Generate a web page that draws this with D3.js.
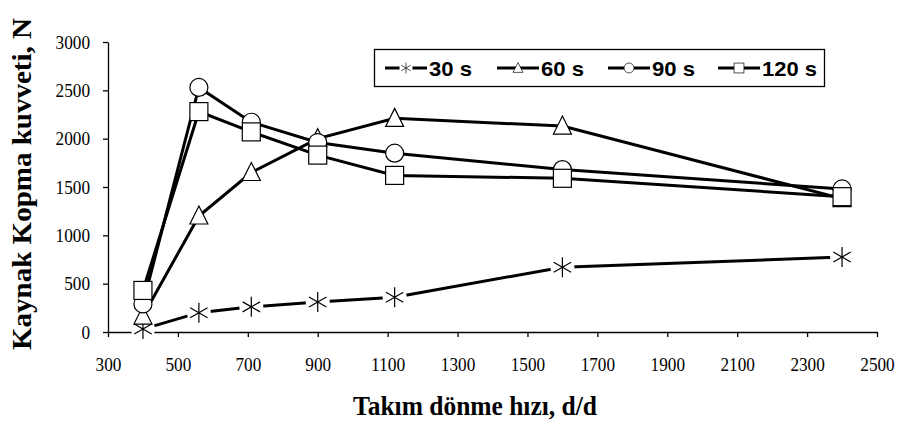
<!DOCTYPE html>
<html>
<head>
<meta charset="utf-8">
<script src="https://cdn.jsdelivr.net/npm/d3@7"></script>
<style>
  body { margin: 0; background: #fff; }
  svg { display: block; }
</style>
</head>
<body>
<div id="container"></div>
<script>
/**
 * DATA
 * */
const speeds = [400, 560, 710, 900, 1120, 1600, 2400];
const force30 = [30, 200, 260, 310, 360, 670, 775];
const force60 = [165, 1200, 1650, 2000, 2210, 2130, 1380];
const force90 = [290, 2530, 2170, 1960, 1850, 1680, 1480];
const force120 = [430, 2280, 2070, 1830, 1620, 1590, 1400];
const seriesNames = ["30 s", "60 s", "90 s", "120 s"];
const markerKinds = ["star", "triangle", "circle", "square"];
const xTicks = [300, 500, 700, 900, 1100, 1300, 1500, 1700, 1900, 2100, 2300, 2500];
const yTicks = [0, 500, 1000, 1500, 2000, 2500, 3000];

/**
 * CONSTANTS AND GLOBALS
 * */
const width = 898,
  height = 423,
  margin = { top: 42, bottom: 91, left: 108, right: 21 };
const serif = "'Liberation Serif', 'Times New Roman', serif";

const series = [force30, force60, force90, force120].map((vals, i) => ({
  name: seriesNames[i],
  kind: markerKinds[i],
  points: speeds.map((s, j) => ({ x: s, y: vals[j] }))
}));

const svg = d3.select("#container").append("svg")
  .attr("width", width)
  .attr("height", height);

const xScale = d3.scaleLinear()
  .domain([300, 2500])
  .range([margin.left, width - margin.right]);

const yScale = d3.scaleLinear()
  .domain([0, 3000])
  .range([height - margin.bottom, margin.top]);

// AXES
const xAxis = svg.append("g")
  .attr("transform", `translate(0,${height - margin.bottom})`)
  .call(d3.axisBottom(xScale).tickValues(xTicks).tickFormat(d3.format("d"))
    .tickSize(5).tickPadding(21).tickSizeOuter(0));

const yAxis = svg.append("g")
  .attr("transform", `translate(${margin.left},0)`)
  .call(d3.axisLeft(yScale).tickValues(yTicks).tickFormat(d3.format("d"))
    .tickSize(5).tickPadding(13).tickSizeOuter(0));

[xAxis, yAxis].forEach(ax => {
  ax.select(".domain").attr("stroke", "#000").attr("stroke-width", 1.3);
  ax.selectAll(".tick line").attr("stroke", "#000").attr("stroke-width", 1.3);
  ax.selectAll(".tick text")
    .attr("fill", "#000")
    .attr("textLength", d => String(d).length * 8.6)
    .attr("lengthAdjust", "spacingAndGlyphs")
    .style("font-family", serif)
    .style("font-size", "19px");
});

// AXIS TITLES
svg.append("text")
  .attr("transform", `translate(31,184) rotate(-90)`)
  .attr("text-anchor", "middle")
  .attr("textLength", 332)
  .attr("lengthAdjust", "spacingAndGlyphs")
  .style("font-family", serif)
  .style("font-weight", "bold")
  .style("font-size", "28px")
  .text("Kaynak Kopma kuvveti, N");

svg.append("text")
  .attr("x", 475)
  .attr("y", 415)
  .attr("text-anchor", "middle")
  .attr("textLength", 244)
  .attr("lengthAdjust", "spacingAndGlyphs")
  .style("font-family", serif)
  .style("font-weight", "bold")
  .style("font-size", "28px")
  .text("Takım dönme hızı, d/d");

// MARKERS
function drawMarker(g, kind, x, y) {
  if (kind === "star") {
    g.append("circle").attr("cx", x).attr("cy", y).attr("r", 12).attr("fill", "#fff");
    const r = 10;
    g.append("path")
      .attr("d", `M${x},${y - r}L${x},${y + r}M${x - r * 0.87},${y - r * 0.5}L${x + r * 0.87},${y + r * 0.5}M${x - r * 0.87},${y + r * 0.5}L${x + r * 0.87},${y - r * 0.5}`)
      .attr("stroke", "#000").attr("stroke-width", 1.2).attr("fill", "none");
  } else if (kind === "triangle") {
    g.append("path")
      .attr("d", `M${x},${y - 10}L${x + 9},${y + 8}L${x - 9},${y + 8}Z`)
      .attr("fill", "#fff").attr("stroke", "#000").attr("stroke-width", 1.2);
  } else if (kind === "circle") {
    g.append("circle").attr("cx", x).attr("cy", y).attr("r", 9)
      .attr("fill", "#fff").attr("stroke", "#000").attr("stroke-width", 1.2);
  } else {
    g.append("rect").attr("x", x - 9).attr("y", y - 9).attr("width", 18).attr("height", 18)
      .attr("fill", "#fff").attr("stroke", "#000").attr("stroke-width", 1.2);
  }
}

const line = d3.line().x(d => xScale(d.x)).y(d => yScale(d.y));

series.forEach(s => {
  const g = svg.append("g");
  g.append("path")
    .datum(s.points)
    .attr("d", line)
    .attr("fill", "none")
    .attr("stroke", "#000")
    .attr("stroke-width", 3);
  s.points.forEach(p => drawMarker(g, s.kind, xScale(p.x), yScale(p.y)));
});

// LEGEND
const legend = svg.append("g");
legend.append("rect")
  .attr("x", 374.5).attr("y", 49.5).attr("width", 450).attr("height", 37)
  .attr("fill", "#fff").attr("stroke", "#000").attr("stroke-width", 1.3);

const legendX = [385, 497, 608, 718];
const legendLabelW = [43, 43, 43, 55];
series.forEach((s, i) => {
  const lx = legendX[i], ly = 68;
  const lg = legend.append("g");
  lg.append("line")
    .attr("x1", lx).attr("x2", lx + 42).attr("y1", ly).attr("y2", ly)
    .attr("stroke", "#000").attr("stroke-width", 3);
  const cx = lx + 21;
  const m = lg.append("g").attr("transform", `translate(${cx},${ly}) scale(0.55) translate(${-cx},${-ly})`);
  drawMarker(m, s.kind, cx, ly);
  lg.append("text")
    .attr("x", lx + 44)
    .attr("y", ly + 8)
    .attr("textLength", legendLabelW[i])
    .attr("lengthAdjust", "spacingAndGlyphs")
    .style("font-family", "'Liberation Sans', Arial, sans-serif")
    .style("font-weight", "bold")
    .style("font-size", "21px")
    .text(s.name);
});
</script>
</body>
</html>
